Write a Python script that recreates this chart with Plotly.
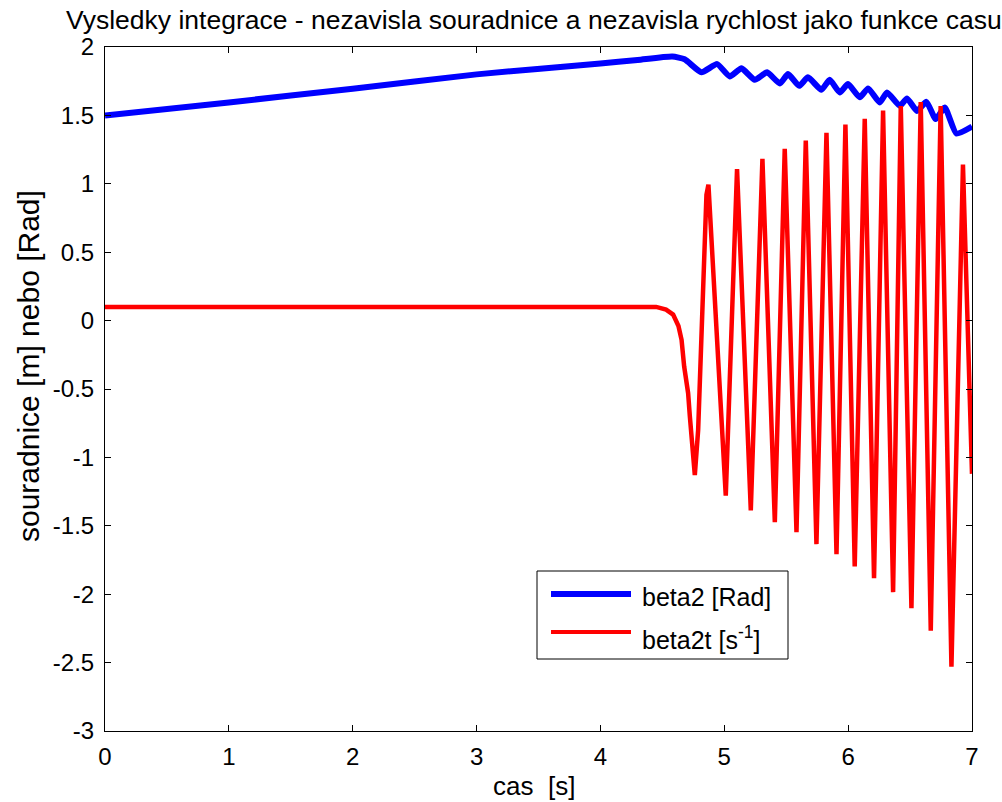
import plotly.graph_objects as go

# ---------------- data ----------------
blue_t = [0.0, 1.0, 2.0, 3.0, 4.0, 4.3, 4.58, 4.68, 4.816, 4.942, 5.044, 5.139, 5.246,
          5.345, 5.448, 5.515, 5.604, 5.676, 5.784, 5.851, 5.932, 5.999, 6.094, 6.161,
          6.255, 6.314, 6.417, 6.475, 6.556, 6.632, 6.707, 6.780, 6.874, 7.0]
blue_v = [1.50, 1.595, 1.695, 1.80, 1.88, 1.905, 1.93, 1.91, 1.815, 1.875, 1.785, 1.844, 1.760,
          1.815, 1.734, 1.802, 1.716, 1.778, 1.687, 1.760, 1.668, 1.729, 1.632, 1.697,
          1.595, 1.668, 1.570, 1.624, 1.533, 1.599, 1.473, 1.558, 1.368, 1.419]

red_t = [0.0, 4.45, 4.53, 4.587, 4.63, 4.655, 4.676, 4.708, 4.722, 4.74, 4.752, 4.762,
         4.789, 4.808, 4.824, 4.842, 4.856, 4.872,
         5.012, 5.103, 5.214, 5.308, 5.408, 5.488, 5.583, 5.658, 5.744, 5.825,
         5.906, 5.978, 6.053, 6.134, 6.209, 6.282, 6.363, 6.425, 6.511, 6.586, 6.667,
         6.747, 6.834, 6.927, 7.0]
red_v = [0.10, 0.10, 0.08, 0.044, -0.04, -0.14, -0.335, -0.53, -0.70, -0.896, -1.067, -1.13,
         -0.80, -0.335, 0.0, 0.64, 0.92, 0.994,
         -1.280, 1.108, -1.387, 1.182, -1.473, 1.255, -1.546, 1.316, -1.634, 1.372,
         -1.707, 1.434, -1.797, 1.475, -1.883, 1.536, -1.985, 1.568, -2.103, 1.597, -2.266,
         1.568, -2.530, 1.141, -1.12]

x_ticks = [0, 1, 2, 3, 4, 5, 6, 7]
x_tick_text = ["0", "1", "2", "3", "4", "5", "6", "7"]
y_ticks = [-3, -2.5, -2, -1.5, -1, -0.5, 0, 0.5, 1, 1.5, 2]
y_tick_text = ["-3", "-2.5", "-2", "-1.5", "-1", "-0.5", "0", "0.5", "1", "1.5", "2"]

title_text = "Vysledky integrace - nezavisla souradnice a nezavisla rychlost jako funkce casu"
x_label = "cas\u00a0\u00a0[s]"
y_label = "souradnice [m] nebo [Rad]"
legend_names = ["beta2 [Rad]", "beta2t [s<sup>-1</sup>]"]
colors = ["#0000ff", "#ff0000"]

# ---------------- layout geometry (screenshot pixels) ----------------
W, H = 1002, 802
L, R, T, B = 105, 972, 47, 731
FONT = "Liberation Sans, Arial, Helvetica, sans-serif"


def px(xs):
    return (xs - L) / (R - L)


def py(ys):
    return (B - ys) / (B - T)


fig = go.Figure()
fig.add_trace(go.Scatter(x=blue_t, y=blue_v, mode="lines", name=legend_names[0],
                         line=dict(color=colors[0], width=6, shape="spline", smoothing=0.5),
                         showlegend=False))
fig.add_trace(go.Scatter(x=red_t, y=red_v, mode="lines", name=legend_names[1],
                         line=dict(color=colors[1], width=4.5), showlegend=False))

axis_common = dict(showgrid=False, zeroline=False, showline=True, linecolor="black",
                   linewidth=1, mirror="ticks", ticks="inside", ticklen=6,
                   tickcolor="black", tickwidth=1,
                   tickfont=dict(family=FONT, size=24, color="black"))

fig.update_xaxes(range=[0, 7], tickvals=x_ticks, ticktext=x_tick_text,
                 ticklabelstandoff=4, **axis_common)
fig.update_yaxes(range=[-3, 2], tickvals=y_ticks, ticktext=y_tick_text,
                 ticklabelstandoff=5, **axis_common)

shapes = [
    # legend box
    dict(type="rect", xref="paper", yref="paper", x0=px(537), x1=px(788), y0=py(659), y1=py(571),
         line=dict(color="black", width=1), fillcolor="white", layer="above"),
    dict(type="line", xref="paper", yref="paper", x0=px(551), x1=px(631), y0=py(594), y1=py(594),
         line=dict(color=colors[0], width=6), layer="above"),
    dict(type="line", xref="paper", yref="paper", x0=px(551), x1=px(631), y0=py(632), y1=py(632),
         line=dict(color=colors[1], width=4), layer="above"),
]

annotations = [
    dict(text=legend_names[0], xref="paper", yref="paper", x=px(640), y=py(597),
         xanchor="left", yanchor="middle", showarrow=False,
         font=dict(family=FONT, size=25, color="black")),
    dict(text=legend_names[1], xref="paper", yref="paper", x=px(640), y=py(638),
         xanchor="left", yanchor="middle", showarrow=False,
         font=dict(family=FONT, size=25, color="black")),
    dict(text=x_label, xref="paper", yref="paper", x=px(534), y=py(786),
         xanchor="center", yanchor="middle", showarrow=False,
         font=dict(family=FONT, size=26, color="black")),
    dict(text=y_label, xref="paper", yref="paper", x=px(28), y=py(366),
         xanchor="center", yanchor="middle", showarrow=False, textangle=-90,
         font=dict(family=FONT, size=30, color="black")),
    dict(text=title_text, xref="paper", yref="paper", x=px(534), y=py(20),
         xanchor="center", yanchor="middle", showarrow=False,
         font=dict(family=FONT, size=26.5, color="black")),
]

fig.update_layout(width=W, height=H, margin=dict(l=L, r=W - R, t=T, b=H - B),
                  paper_bgcolor="white", plot_bgcolor="white",
                  shapes=shapes, annotations=annotations, showlegend=False)

fig.write_html("out.html",
               config={"displayModeBar": False},
               post_script="document.body.style.margin='0';"
                           "document.body.style.overflow='hidden';")
